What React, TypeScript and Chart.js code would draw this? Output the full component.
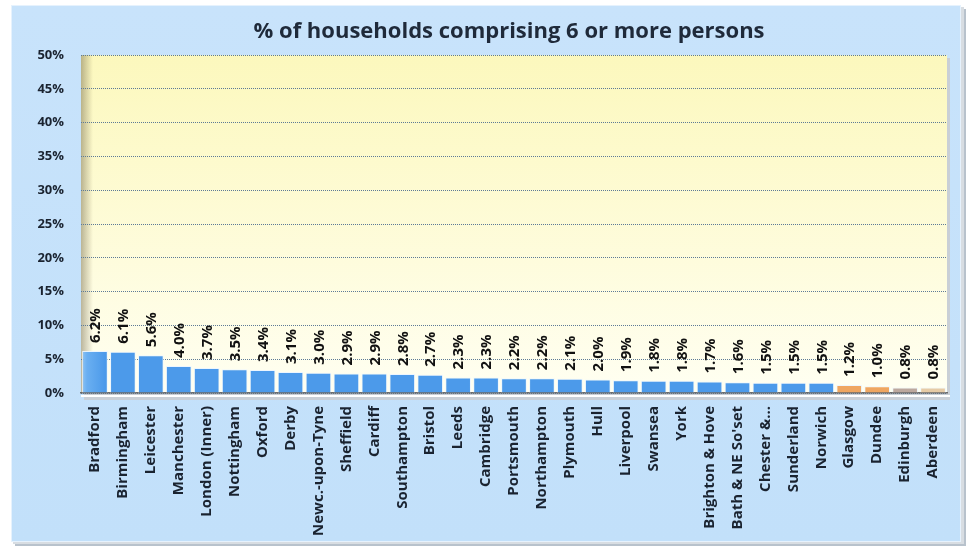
import React, { useEffect, useRef } from "react";
import { Chart, registerables } from "chart.js";

Chart.register(...registerables);

const TITLE = "% of households comprising 6 or more persons";

const CITIES = [
  "Bradford", "Birmingham", "Leicester", "Manchester", "London (Inner)", "Nottingham",
  "Oxford", "Derby", "Newc.-upon-Tyne", "Sheffield", "Cardiff", "Southampton", "Bristol",
  "Leeds", "Cambridge", "Portsmouth", "Northampton", "Plymouth", "Hull", "Liverpool",
  "Swansea", "York", "Brighton & Hove", "Bath & NE So'set", "Chester &...", "Sunderland",
  "Norwich", "Glasgow", "Dundee", "Edinburgh", "Aberdeen",
];

const VALUES = [
  6.2, 6.1, 5.6, 4.0, 3.7, 3.5, 3.4, 3.1, 3.0, 2.9, 2.9, 2.8, 2.7, 2.3, 2.3, 2.2, 2.2,
  2.1, 2.0, 1.9, 1.8, 1.8, 1.7, 1.6, 1.5, 1.5, 1.5, 1.2, 1.0, 0.8, 0.8,
];

const BAR_COLORS = [
  ...Array(27).fill("blue"),
  "orange", "orange", "grey", "beige",
];

const Y_TICKS = [0, 5, 10, 15, 20, 25, 30, 35, 40, 45, 50];

const FONT = "'Open Sans', Lato, sans-serif";

export default function App() {
  const ref = useRef<HTMLCanvasElement>(null);

  useEffect(() => {
    const canvas = ref.current!;
    const ctx = canvas.getContext("2d")!;

    const backgroundPlugin = {
      id: "bgPlugin",
      beforeDraw(chart: any) {
        const c = chart.ctx;
        const { left, right, top, bottom } = chart.chartArea;
        c.save();
        c.fillStyle = "#ffffff";
        c.fillRect(0, 0, chart.width, chart.height);
        c.fillStyle = "#b8c2cc";
        c.fillRect(15, 9, 951, 537);
        c.fillStyle = "#d8dde2";
        c.fillRect(13, 7, 951, 537);
        const pg = c.createLinearGradient(0, 5, 0, 543);
        pg.addColorStop(0, "#c8e3fb");
        pg.addColorStop(1, "#c2e0fa");
        c.fillStyle = pg;
        c.fillRect(11, 5, 950, 537);
        c.strokeStyle = "#e6f2fd";
        c.lineWidth = 1;
        c.strokeRect(11.5, 5.5, 949, 536);
        c.fillStyle = "#c9cfd6";
        c.fillRect(left + 3, top + 3, right - left, bottom - top + 4);
        const g = c.createLinearGradient(0, top, 0, bottom);
        g.addColorStop(0, "#fcf8bd");
        g.addColorStop(0.6, "#fefcdc");
        g.addColorStop(1, "#fffff2");
        c.fillStyle = g;
        c.fillRect(left, top, right - left, bottom - top);
        const sg = c.createLinearGradient(left, 0, left + 12, 0);
        sg.addColorStop(0, "rgba(120,110,80,0.5)");
        sg.addColorStop(1, "rgba(120,110,80,0)");
        c.fillStyle = sg;
        c.fillRect(left, top, 12, bottom - top);
        c.fillStyle = "#ffffff";
        c.fillRect(left, bottom + 2, right - left + 3, 2);
        c.restore();
      },
      afterDraw(chart: any) {
        const c = chart.ctx;
        c.save();
        c.fillStyle = "#1f2a3a";
        c.font = `bold 22px ${FONT}`;
        c.textAlign = "center";
        c.textBaseline = "middle";
        c.fillText(TITLE, 509, 32);
        const meta = chart.getDatasetMeta(0);
        c.font = `bold 15px ${FONT}`;
        c.fillStyle = "#111111";
        c.textAlign = "left";
        c.textBaseline = "middle";
        meta.data.forEach((el: any, i: number) => {
          c.save();
          c.translate(el.x + 1, el.y - 8);
          c.rotate(-Math.PI / 2);
          c.fillText(VALUES[i].toFixed(1) + "%", 0, 0);
          c.restore();
        });
        c.restore();
      },
    };

    const makeFill = (context: any) => {
      const chart = context.chart;
      const area = chart.chartArea;
      const kind = BAR_COLORS[context.dataIndex];
      if (!area) return "#5ca5ee";
      const el = context.element;
      const x0 = el && el.x !== undefined ? el.x - (el.width || 24) / 2 : area.left;
      const x1 = el && el.x !== undefined ? el.x + (el.width || 24) / 2 : area.left + 24;
      const g = chart.ctx.createLinearGradient(x0, 0, x1, 0);
      if (kind === "blue") {
        g.addColorStop(0, "#92c7f6");
        g.addColorStop(0.25, "#6aaff1");
        g.addColorStop(1, "#4c9aea");
      } else if (kind === "orange") {
        g.addColorStop(0, "#f7c995");
        g.addColorStop(1, "#efa661");
      } else if (kind === "grey") {
        g.addColorStop(0, "#ddcbc1");
        g.addColorStop(1, "#bca89e");
      } else {
        g.addColorStop(0, "#f3dfc4");
        g.addColorStop(1, "#e6cba6");
      }
      return g;
    };

    const chart = new Chart(ctx, {
      type: "bar",
      data: {
        labels: CITIES,
        datasets: [
          {
            data: VALUES,
            backgroundColor: makeFill,
            borderColor: "rgba(235,245,255,0.9)",
            borderWidth: { left: 1, right: 1, top: 1, bottom: 0 },
            barPercentage: 0.92,
            categoryPercentage: 1,
          },
        ],
      },
      options: {
        responsive: false,
        animation: false,
        devicePixelRatio: 1,
        layout: { padding: { left: 0, right: 26, top: 55, bottom: 0 } },
        plugins: {
          legend: { display: false },
          tooltip: { enabled: false },
          title: { display: false },
        },
        scales: {
          x: {
            grid: { display: false, drawTicks: false },
            border: { display: true, color: "#6b6b6b", width: 1.5 },
            ticks: {
              minRotation: 90,
              maxRotation: 90,
              autoSkip: false,
              padding: 13,
              color: "#1a2330",
              font: { family: FONT, weight: "bold", size: 15 },
            },
            afterFit(scale: any) {
              scale.height = 154;
            },
          },
          y: {
            min: 0,
            max: 50,
            afterBuildTicks(scale: any) {
              scale.ticks = Y_TICKS.map((v) => ({ value: v }));
            },
            grid: {
              color: "#5d7a96",
              lineWidth: 1,
              drawTicks: false,
            },
            border: { display: false, dash: [1, 1] },
            ticks: {
              padding: 17,
              color: "#1a2330",
              font: { family: FONT, weight: "bold", size: 13 },
              callback: (v: any) => v + "%",
            },
            afterFit(scale: any) {
              scale.width = 81;
            },
          },
        },
      },
      plugins: [backgroundPlugin],
    } as any);

    return () => chart.destroy();
  }, []);

  return (
    <div style={{ position: "absolute", left: 0, top: 0, width: 973, height: 547 }}>
      <canvas ref={ref} width={973} height={547} style={{ display: "block" }} />
    </div>
  );
}
